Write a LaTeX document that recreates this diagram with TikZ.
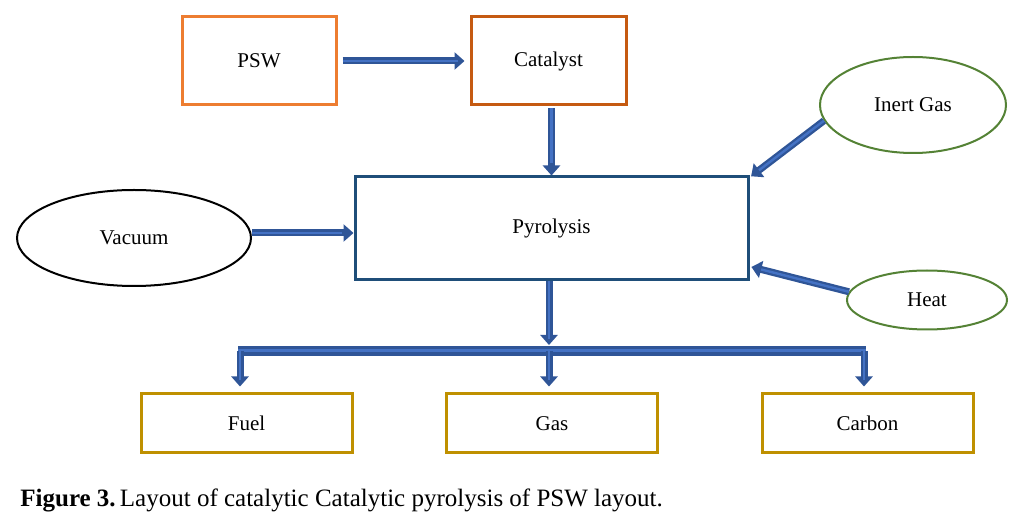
\documentclass[tikz,border=0pt]{standalone}
\usepackage{fontspec}
\setmainfont{Liberation Serif}
\usepackage{xcolor}
\usepackage{tikz}
\usetikzlibrary{shapes.geometric, arrows.meta, positioning}
\definecolor{pswOrange}{HTML}{ED7D31}
\definecolor{pswRust}{HTML}{C55A11}
\definecolor{pswNavy}{HTML}{1F4E79}
\definecolor{pswGreen}{HTML}{548235}
\definecolor{pswGold}{HTML}{BF9000}
\definecolor{pswFlowDark}{HTML}{2F5597}
\definecolor{pswFlowLight}{HTML}{4472C4}
\tikzset{
  psw/box/.style      = {rectangle, draw, line width=1.5pt, inner sep=0pt, align=center,
                         font=\fontsize{10.5}{12}\selectfont},
  psw/oval/.style     = {ellipse, draw, line width=1pt, inner sep=0pt, align=center,
                         font=\fontsize{10.5}{12}\selectfont},
  psw/flow/.style     = {draw=pswFlowDark, line width=3.5pt, -{Triangle[length=5pt, width=8.5pt]},
                         postaction={draw=pswFlowLight, line width=1.2pt, -, shorten >=6pt}},
  psw/bus/.style      = {draw=pswFlowDark, line width=5pt,
                         postaction={draw=pswFlowLight, line width=1.5pt}},
}
\begin{document}
\begin{tikzpicture}[x=0.5pt, y=-0.5pt]
  \useasboundingbox (0,0) rectangle (1024,529);
  % --- Top row ---
  \node[psw/box, draw=pswOrange, minimum width=77pt, minimum height=44pt]  (psw)  at (259,61)    {PSW};
  \node[psw/box, draw=pswRust,   minimum width=77.5pt, minimum height=44pt] (cat) at (548.5,61)  {Catalyst};
  \node[psw/oval, draw=pswGreen, minimum width=93pt, minimum height=48pt]  (inert) at (913,105)  {Inert Gas};
  % --- Reactor and inputs ---
  \node[psw/box, draw=pswNavy, minimum width=196.5pt, minimum height=51.5pt] (pyro) at (551.5,228.5) {Pyrolysis};
  \node[psw/oval, draw=black,    minimum width=117pt, minimum height=48pt]   (vac)  at (134,238)    {Vacuum};
  \node[psw/oval, draw=pswGreen, minimum width=80pt,  minimum height=29.5pt] (heat) at (927,300)    {Heat};
  % --- Products ---
  \node[psw/box, draw=pswGold, minimum width=105.5pt, minimum height=29.5pt] (fuel)   at (246.5,423.5) {Fuel};
  \node[psw/box, draw=pswGold, minimum width=105.5pt, minimum height=29.5pt] (gas)    at (552,423.5)   {Gas};
  \node[psw/box, draw=pswGold, minimum width=105.5pt, minimum height=29.5pt] (carbon) at (867.5,423.5) {Carbon};
  % --- Feed arrows ---
  \draw[psw/flow, shorten <=2.5pt, shorten >=2.5pt] (psw) -- (cat);
  \draw[psw/flow, shorten <=1pt] (cat.south -| pyro.north) -- (pyro.north);
  \coordinate (vacOut) at ([yshift=2.5pt]vac.east);
  \draw[psw/flow] (vacOut) -- (vacOut -| pyro.west);
  \draw[psw/flow, shorten >=1pt] (inert.190) -- ([yshift=-1pt]pyro.north east);
  \coordinate (heatIn) at ([yshift=7.5pt]pyro.south east);
  \draw[psw/flow, shorten >=1pt] (heat.174) -- (heatIn);
  % --- Product bus ---
  \coordinate (busL) at (240,351);
  \coordinate (busM) at (549,351);
  \coordinate (busR) at (864,351);
  \draw[psw/flow, shorten >=3pt] (pyro.south -| busM) -- (busM);
  \draw[psw/bus] ([xshift=-1pt]busL) -- ([xshift=1pt]busR);
  \draw[psw/flow, shorten >=3pt] (busL) -- (busL |- fuel.north);
  \draw[psw/flow, shorten >=3pt] (busM) -- (busM |- gas.north);
  \draw[psw/flow, shorten >=3pt] (busR) -- (busR |- carbon.north);
  % --- Caption ---
  \node[anchor=west, inner sep=0pt, font=\fontsize{12.5}{15}\selectfont] (cap) at (20,500)
    {\textbf{Figure 3.}\,Layout of catalytic Catalytic pyrolysis of PSW layout.};
\end{tikzpicture}
\end{document}
